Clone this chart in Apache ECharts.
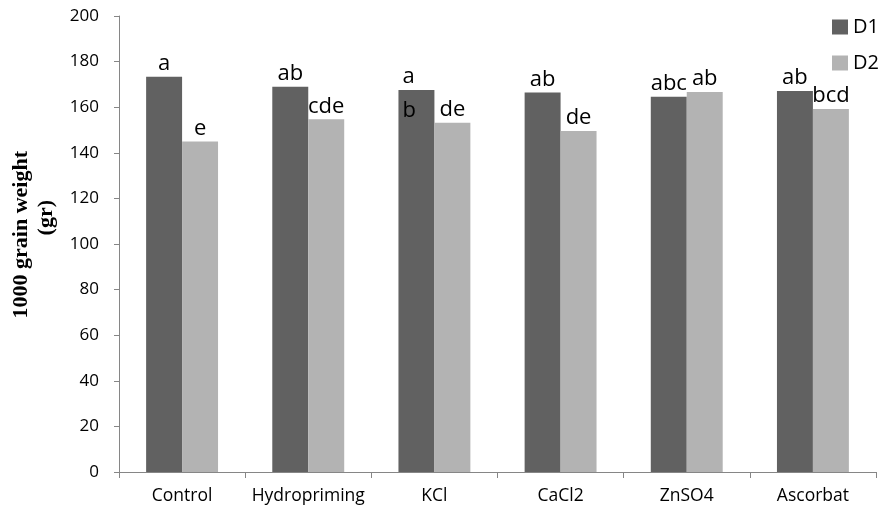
<!DOCTYPE html>
<html>
<head>
<meta charset="utf-8">
<script src="https://cdn.jsdelivr.net/npm/echarts@6/dist/echarts.min.js"></script>
<style>html,body{margin:0;padding:0;background:#fff}#c{width:880px;height:513px}</style>
</head>
<body>
<div id="c"></div>
<script>
const categories = ['Control', 'Hydropriming', 'KCl', 'CaCl2', 'ZnSO4', 'Ascorbat'];
const d1Values = [173.4, 169.0, 167.5, 166.5, 164.6, 167.1];
const d2Values = [145.0, 154.7, 153.2, 149.6, 166.7, 159.2];
const d1Letters = ['a', 'ab', 'a\nb', 'ab', 'abc', 'ab'];
const d2Letters = ['e', 'cde', 'de', 'de', 'ab', 'bcd'];
const yTicks = [0, 20, 40, 60, 80, 100, 120, 140, 160, 180, 200];

const FONT = 'Open Sans';
const labelBase = { show: true, position: 'top', distance: 2, color: '#000', fontFamily: FONT, fontSize: 22 };

function makeData(values, letters) {
  return values.map((v, i) => {
    const item = { value: v, label: Object.assign({}, labelBase, { formatter: letters[i] }) };
    if (letters[i].indexOf('\n') >= 0) {
      Object.assign(item.label, { lineHeight: 34, align: 'left', offset: [-14, 40] });
    }
    return item;
  });
}

const chart = echarts.init(document.getElementById('c'), null, { renderer: 'canvas' });
chart.setOption({
  animation: false,
  backgroundColor: '#fff',
  grid: { left: 119, right: 4, top: 16, bottom: 41, containLabel: false },
  legend: {
    orient: 'vertical', left: 832, top: 17, padding: 0, itemWidth: 16, itemHeight: 15, itemGap: 16,
    icon: 'rect',
    textStyle: { fontFamily: FONT, fontSize: 20, color: '#000', padding: [0, 0, 0, 0] },
    data: ['D1', 'D2']
  },
  xAxis: {
    type: 'category', data: categories,
    axisLine: { lineStyle: { color: '#868686', width: 1 } },
    axisTick: { show: true, length: 6, lineStyle: { color: '#868686' } },
    axisLabel: { interval: 0, color: '#000', fontFamily: FONT, fontSize: 17.5, margin: 15 }
  },
  yAxis: {
    type: 'value', min: yTicks[0], max: yTicks[yTicks.length - 1], interval: 20,
    axisLine: { show: true, lineStyle: { color: '#868686', width: 1 } },
    axisTick: { show: true, length: 5, lineStyle: { color: '#868686' } },
    splitLine: { show: false },
    axisLabel: { color: '#000', fontFamily: FONT, fontSize: 17, margin: 20 }
  },
  graphic: [
    { type: 'text', left: 10, top: 151, rotation: Math.PI / 2, silent: true,
      style: { text: '1000 grain weight', font: 'bold 22px "Liberation Serif"', fill: '#000' } },
    { type: 'text', left: 35, top: 200, rotation: Math.PI / 2, silent: true,
      style: { text: '(gr)', font: 'bold 22px "Liberation Serif"', fill: '#000' } }
  ],
  series: [
    { name: 'D1', type: 'bar', data: makeData(d1Values, d1Letters), barGap: '0%', barCategoryGap: '43%',
      itemStyle: { color: '#616161' } },
    { name: 'D2', type: 'bar', data: makeData(d2Values, d2Letters), barGap: '0%', barCategoryGap: '43%',
      itemStyle: { color: '#b3b3b3' } }
  ]
});
</script>
</body>
</html>
